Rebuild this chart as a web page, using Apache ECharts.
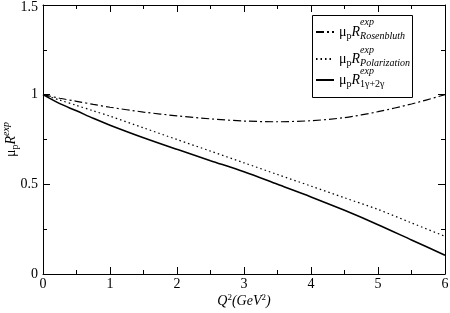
<!DOCTYPE html>
<html>
<head>
<meta charset="utf-8">
<script src="https://cdn.jsdelivr.net/npm/echarts@6/dist/echarts.min.js"></script>
<style>
	body{margin:0;background:#fff}
	#chart{width:450px;height:313px}
</style>
</head>
<body>
<div id="chart"></div>
<script>
	// Q^2 values (GeV^2)
	var q2 = [0, 0.25, 0.5, 0.75, 1, 1.5, 2, 2.5, 3, 3.5, 4, 4.5, 5, 5.5, 6];
	var rosenbluth = [1, 0.98, 0.963, 0.946, 0.93, 0.903, 0.882, 0.865, 0.853, 0.849, 0.855, 0.872, 0.905, 0.948, 1.0];
	var polarization = [1, 0.97, 0.94, 0.91, 0.88, 0.815, 0.75, 0.685, 0.62, 0.555, 0.49, 0.425, 0.36, 0.285, 0.21];
	var twoPhoton = [1, 0.95, 0.91, 0.868, 0.83, 0.76, 0.695, 0.632, 0.57, 0.5, 0.43, 0.355, 0.275, 0.19, 0.105];
	var seriesNames = ['Rosenbluth', 'Polarization', '1γ+2γ'];

	function pairs(ys){
		return q2.map(function(x, i){ return [x, ys[i]]; });
	}

	var font = '"Liberation Serif", "Times New Roman", serif';
	var axisBase = {
		axisLine: {show: true, onZero: false, lineStyle: {color: '#000', width: 1}},
		axisTick: {show: true, inside: true, length: 7, lineStyle: {color: '#000'}},
		minorTick: {show: true, splitNumber: 2, length: 4, lineStyle: {color: '#000'}},
		splitLine: {show: false},
		minorSplitLine: {show: false},
		nameMoveOverlap: false
	};
	function ax(extra){
		return Object.assign({}, JSON.parse(JSON.stringify(axisBase)), extra);
	}

	var richLegend = {
		m: {fontFamily: font, fontSize: 14, color: '#000'},
		s: {fontFamily: font, fontSize: 10, color: '#000', padding: [8, 0, 0, 0]},
		i: {fontFamily: font, fontSize: 14, fontStyle: 'italic', color: '#000'},
		sub: {fontFamily: font, fontSize: 10, fontStyle: 'italic', color: '#000', padding: [8, 0, 0, 0]},
		s2: {fontFamily: font, fontSize: 10, color: '#000', padding: [8, 0, 0, 0]}
	};
	var legendTops = [25, 52, 73];
	var legends = seriesNames.map(function(n, k){
		return {
			data: [n],
			left: 315,
			top: legendTops[k],
			z: 20,
			itemWidth: 18,
			itemHeight: 10,
			itemGap: 0,
			padding: 0,
			selectedMode: false,
			itemStyle: {opacity: 0},
			formatter: function(name){
				var sub = name === '1γ+2γ' ? '{s2|1γ+2γ}' : '{sub|' + name + '}';
				return '{m|μ}{s|p}{i|R}' + sub;
			},
			textStyle: {rich: richLegend}
		};
	});

	var expFont = 'italic 10px "Liberation Serif", serif';

	var myChart = echarts.init(document.getElementById('chart'));
	var option = {
		backgroundColor: '#fff',
		animation: false,
		grid: {left: 43, right: 5, top: 5, bottom: 39, containLabel: false, outerBoundsMode: 'none'},
		legend: legends,
		graphic: [
			{type: 'rect', left: 312, top: 15, shape: {width: 100, height: 82}, style: {fill: '#fff', stroke: '#000', lineWidth: 1}, z: 10},
			{type: 'text', left: 360, top: 17, style: {text: 'exp', font: expFont, fill: '#000'}, z: 30},
			{type: 'text', left: 360, top: 45, style: {text: 'exp', font: expFont, fill: '#000'}, z: 30},
			{type: 'text', left: 360, top: 66, style: {text: 'exp', font: expFont, fill: '#000'}, z: 30}
		],
		xAxis: [
			ax({type: 'value', min: 0, max: 6, interval: 1,
				name: '{i|Q}{sup|2}{n|(}{i|GeV}{sup|2}{n|)}', nameLocation: 'middle', nameGap: 19,
				nameTextStyle: {rich: {
					i: {fontFamily: font, fontSize: 14, fontStyle: 'italic', color: '#000'},
					n: {fontFamily: font, fontSize: 14, fontStyle: 'italic', color: '#000'},
					sup: {fontFamily: font, fontSize: 9, color: '#000', padding: [0, 0, 8, 0]}
				}},
				axisLabel: {fontFamily: font, fontSize: 14, color: '#000', margin: 3}}),
			ax({type: 'value', min: 0, max: 6, interval: 1, position: 'top', axisLabel: {show: false}})
		],
		yAxis: [
			ax({type: 'value', min: 0, max: 1.5, interval: 0.5,
				name: '{m|μ}{s|p}{i|R}{sup|exp}', nameLocation: 'middle', nameGap: 22,
				nameTextStyle: {rich: {
					m: {fontFamily: font, fontSize: 14, color: '#000'},
					s: {fontFamily: font, fontSize: 10, color: '#000', padding: [8, 0, 0, 0]},
					i: {fontFamily: font, fontSize: 14, fontStyle: 'italic', color: '#000'},
					sup: {fontFamily: font, fontSize: 10, fontStyle: 'italic', color: '#000', padding: [0, 0, 10, 0]}
				}},
				axisLabel: {fontFamily: font, fontSize: 14, color: '#000', margin: 5,
					formatter: function(v){ return v === 1.5 ? '{t|1.5}' : String(v); },
					rich: {t: {fontFamily: font, fontSize: 14, color: '#000', padding: [5, 0, 0, 0]}}}}),
			ax({type: 'value', min: 0, max: 1.5, interval: 0.5, position: 'right', axisLabel: {show: false}})
		],
		series: [
			{name: 'Rosenbluth', type: 'line', data: pairs(rosenbluth), smooth: 0.3, showSymbol: false, symbol: 'none',
				lineStyle: {color: '#000', width: 1.2, type: [8, 3, 2, 3]}, itemStyle: {color: '#000'}, z: 5},
			{name: 'Polarization', type: 'line', data: pairs(polarization), smooth: 0.3, showSymbol: false, symbol: 'none',
				lineStyle: {color: '#000', width: 1.2, type: [1.5, 3]}, itemStyle: {color: '#000'}, z: 5},
			{name: '1γ+2γ', type: 'line', data: pairs(twoPhoton), smooth: 0.3, showSymbol: false, symbol: 'none',
				lineStyle: {color: '#000', width: 1.6, type: 'solid'}, itemStyle: {color: '#000'}, z: 5}
		]
	};
	myChart.setOption(option);
</script>
</body>
</html>
